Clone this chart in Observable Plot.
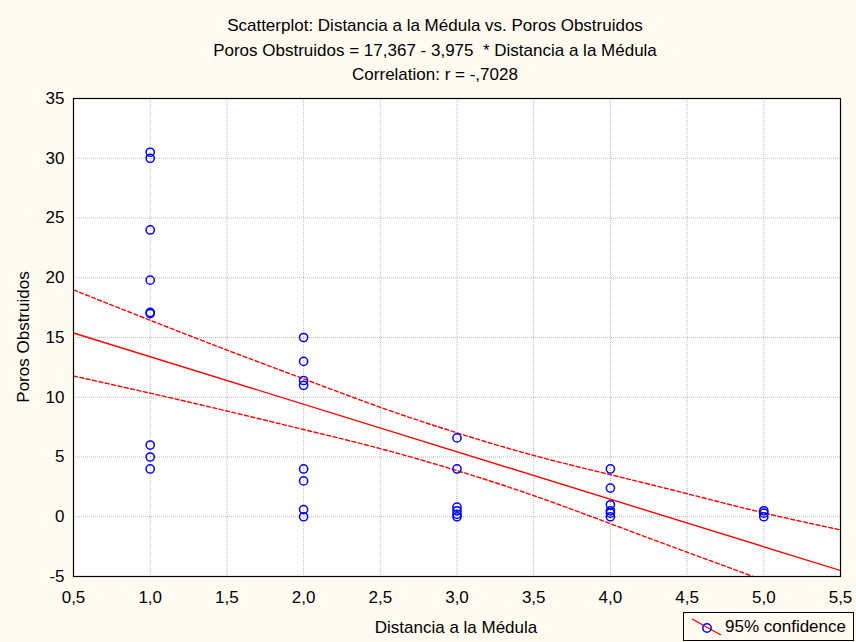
<!DOCTYPE html>
<html>
<head>
<meta charset="utf-8">
<script src="https://cdn.jsdelivr.net/npm/d3@7"></script>
<script src="https://cdn.jsdelivr.net/npm/@observablehq/plot@0.6"></script>
<style>
  html, body { margin: 0; padding: 0; background: #fffbf0; }
  body { font-family: "Liberation Sans", Arial, sans-serif; color: #000; }
  #wrap { position: relative; width: 856px; height: 642px; overflow: hidden; }
  #chart { position: absolute; left: 0; top: 0; }
  .t { position: absolute; left: 0; width: 870px; text-align: center; font-size: 17px; line-height: 20px; white-space: nowrap; }
  #ylab { position: absolute; left: 24px; top: 337px; font-size: 17px; line-height: 20px; white-space: nowrap;
          transform: translate(-50%, -50%) rotate(-90deg); }
  #xlab { position: absolute; left: 456px; top: 628px; font-size: 17px; line-height: 20px; white-space: nowrap;
          transform: translate(-50%, -50%); }
  #legend { position: absolute; left: 683px; top: 612px; width: 171px; height: 29px; border: 1px solid #000; box-sizing: border-box; }
  #legend svg { position: absolute; left: 6px; top: 4px; }
  #legend span { position: absolute; left: 41px; top: 3px; font-size: 17px; line-height: 21px; white-space: nowrap; }
</style>
</head>
<body>
<div id="wrap">
  <div id="chart"></div>
  <div class="t" style="top:16px">Scatterplot: Distancia a la Médula vs. Poros Obstruidos</div>
  <div class="t" style="top:41px">Poros Obstruidos = 17,367 - 3,975 &nbsp;* Distancia a la Médula</div>
  <div class="t" style="top:65px">Correlation: r = -,7028</div>
  <div id="ylab">Poros Obstruidos</div>
  <div id="xlab">Distancia a la Médula</div>
  <div id="legend">
    <svg width="34" height="20">
      <line x1="2" y1="2" x2="31" y2="18" stroke="#ff0000" stroke-width="1.3"></line>
      <circle cx="17" cy="11" r="4.2" fill="none" stroke="#0000ff" stroke-width="1.5"></circle>
    </svg>
    <span>95% confidence</span>
  </div>
</div>
<script>
// Observations: Distancia a la Médula (x) and Poros Obstruidos (y)
const distancia = [1, 1, 1, 1, 1, 1, 1, 1, 1,
                   2, 2, 2, 2, 2, 2, 2, 2,
                   3, 3, 3, 3, 3, 3,
                   4, 4, 4, 4, 4, 4,
                   5, 5, 5];
const poros = [30.5, 30.0, 24.0, 19.8, 17.1, 17.0, 6.0, 5.0, 4.0,
               15.0, 13.0, 11.4, 11.0, 4.0, 3.0, 0.6, 0.0,
               6.6, 4.0, 0.8, 0.5, 0.2, 0.0,
               4.0, 2.4, 1.0, 0.5, 0.3, 0.0,
               0.5, 0.3, 0.0];

// Regression line (from the equation), ends of the x range
const regX = [0.5, 5.5];
const regY = [15.38, -4.50];

// 95% confidence band
const bandX = [0.5, 1, 1.5, 2, 2.5, 3, 3.5, 4, 4.5, 5, 5.5];
const bandUpper = [18.98, 16.44, 13.95, 11.54, 9.16, 7.02, 5.13, 3.52, 1.93, 0.32, -1.10];
const bandLower = [11.78, 10.34, 8.85, 7.30, 5.70, 3.86, 1.77, -0.58, -2.97, -5.34, -7.90];

// Ticks
const xTicks = [0.5, 1, 1.5, 2, 2.5, 3, 3.5, 4, 4.5, 5, 5.5];
const yTicks = [-5, 0, 5, 10, 15, 20, 25, 30, 35];

const points = distancia.map((d, i) => ({x: d, y: poros[i]}));
const reg = regX.map((d, i) => ({x: d, y: regY[i]}));
const upper = bandX.map((d, i) => ({x: d, y: bandUpper[i]}));
const lower = bandX.map((d, i) => ({x: d, y: bandLower[i]}));

const fmtX = d => d.toFixed(1).replace(".", ",");
const fmtY = d => String(d);

const chart = Plot.plot({
  width: 856,
  height: 642,
  marginLeft: 73,
  marginRight: 16,
  marginTop: 98,
  marginBottom: 66,
  style: {background: "transparent", fontFamily: "Liberation Sans, Arial, sans-serif", fontSize: "17px", color: "#000", overflow: "visible"},
  x: {domain: [0.5, 5.5], label: null},
  y: {domain: [-5, 35], label: null},
  marks: [
    Plot.frame({fill: "white", stroke: null}),
    Plot.gridX(xTicks, {stroke: "#bdbdbd", strokeOpacity: 1, strokeDasharray: "1,1"}),
    Plot.gridY(yTicks, {stroke: "#bdbdbd", strokeOpacity: 1, strokeDasharray: "1,1"}),
    Plot.axisX(xTicks, {tickFormat: fmtX, tickSize: 0, tickPadding: 14, fontSize: 17, label: null}),
    Plot.axisY(yTicks, {tickFormat: fmtY, tickSize: 0, tickPadding: 9, fontSize: 17, label: null}),
    Plot.line(upper, {x: "x", y: "y", stroke: "#ff0000", strokeWidth: 1.4, strokeDasharray: "4,2.5", curve: "natural", clip: "frame"}),
    Plot.line(lower, {x: "x", y: "y", stroke: "#ff0000", strokeWidth: 1.4, strokeDasharray: "4,2.5", curve: "natural", clip: "frame"}),
    Plot.line(reg, {x: "x", y: "y", stroke: "#ff0000", strokeWidth: 1.4, clip: "frame"}),
    Plot.dot(points, {x: "x", y: "y", r: 4.1, stroke: "#0000ff", strokeWidth: 1.5, fill: "none"}),
    Plot.frame({stroke: "#000", strokeWidth: 1.2})
  ]
});
document.getElementById("chart").appendChild(chart);
</script>
</body>
</html>
